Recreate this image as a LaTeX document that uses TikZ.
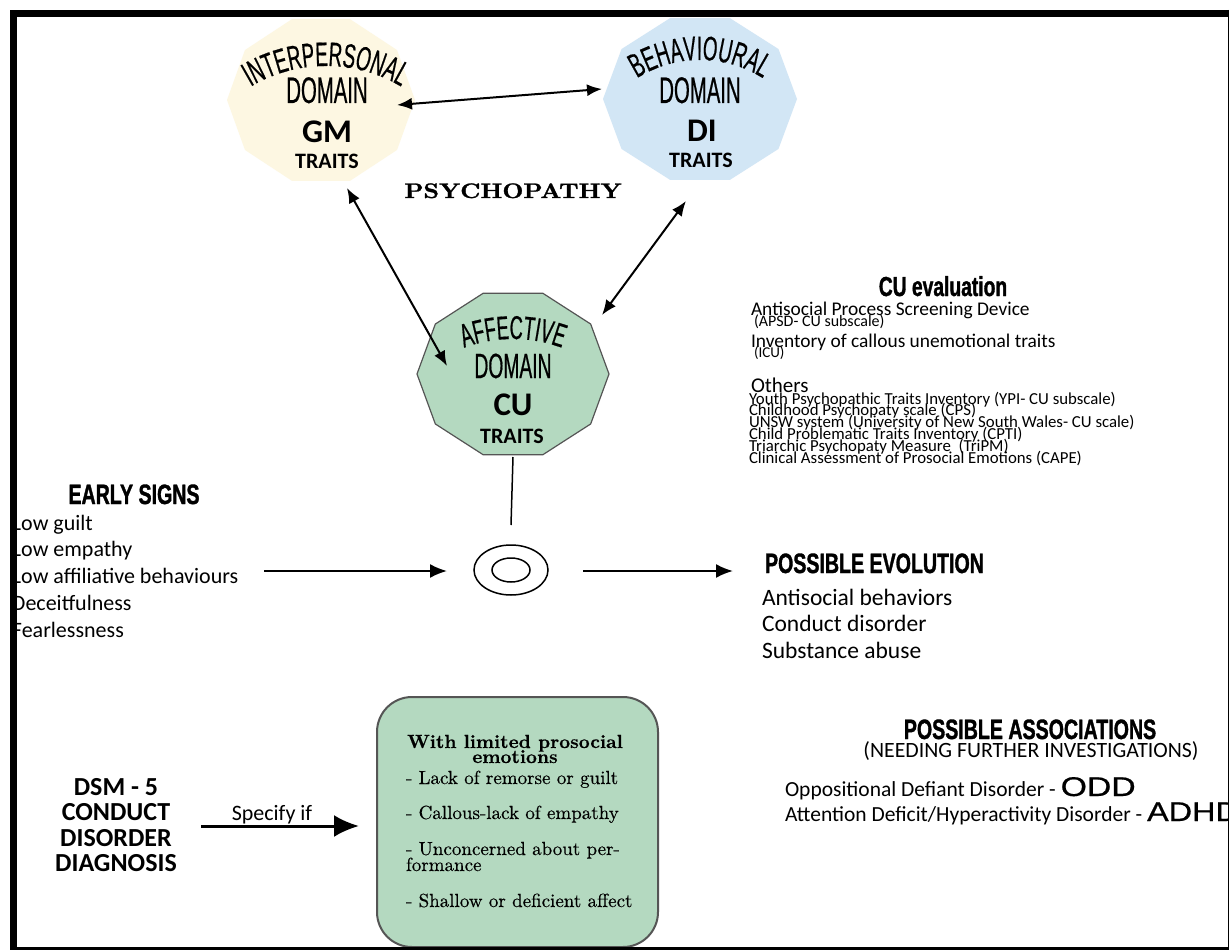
\documentclass[tikz,border=0pt]{standalone}
\usepackage{fontspec}
\usepackage{graphicx}
\usetikzlibrary{arrows.meta,decorations.text,shapes.geometric}
\newfontfamily\calfont{Carlito}
\newfontfamily\condreg{Liberation Sans}[FakeStretch=0.55,FakeBold=0.5]
\newfontfamily\condbf{Liberation Sans Bold}[FakeStretch=0.7,FakeBold=1.2]
\newfontfamily\lsans{Liberation Sans}[FakeBold=0.6]
\newfontfamily\heavyserif{lmroman10-bold.otf}[FakeBold=1.2]
\newfontfamily\darkserif{lmroman10-regular.otf}[FakeBold=0.4]
\newfontfamily\titleserif{lmroman10-bold.otf}[FakeBold=0.4]
\newcommand\setfs[1]{\fontsize{#1}{#1}\selectfont}
\newcommand\cb{\condbf}
\newcommand\archA{\condreg\setfs{34}}
\newcommand\archC{\condreg\setfs{33}}
\definecolor{gmcol}{RGB}{253,247,226}
\definecolor{dicol}{RGB}{210,230,245}
\definecolor{cucol}{RGB}{180,217,192}
\definecolor{edgegray}{RGB}{85,85,85}
\begin{document}
\begin{tikzpicture}[x=1pt,y=-1pt,
  every node/.style={inner sep=0pt,outer sep=0pt},
  lab/.style={anchor=base},
  lw/.style={anchor=base west},
  dbl/.style={{Latex[length=15pt,width=12pt]}-{Latex[length=15pt,width=12pt]},line width=2pt},
  sgl/.style={-{Latex[length=17pt,width=14pt]},line width=2pt},
  big/.style={-{Latex[length=25pt,width=22pt]},line width=3pt}]
\useasboundingbox (0,0) rectangle (1229,952);
\fill[white] (0,0) rectangle (1229,952);

% ---------- domain polygons ----------
\fill[gmcol] (321,100) +(0:94 and 85) \foreach \a in {36,72,...,324}{ -- +(\a:94 and 85)} -- cycle;
\fill[dicol] (700,99) +(0:97 and 85) \foreach \a in {36,72,...,324}{ -- +(\a:97 and 85)} -- cycle;
\filldraw[fill=cucol,draw=edgegray,line width=1.2pt] (513,374) +(0:96 and 85) \foreach \a in {36,72,...,324}{ -- +(\a:96 and 85)} -- cycle;

% interpersonal
\path[decorate,decoration={text along path,text={|\archA|INTERPERSONAL},text align=center}]
  (326,213) ++(-135:147) arc[start angle=-135,end angle=-45,radius=147];
\node[lab,font=\condreg\setfs{37}] (gmdom) at (327,103) {DOMAIN};
\node[lab,font=\calfont\bfseries\setfs{33}] (gm) at (327,143) {GM};
\node[lab,font=\calfont\bfseries\setfs{22}] (gmtr) at (327,169) {TRAITS};

% behavioural
\path[decorate,decoration={text along path,text={|\archA|BEHAVIOURAL},text align=center}]
  (700,178) ++(-140:118) arc[start angle=-140,end angle=-40,radius=118];
\node[lab,font=\condreg\setfs{37}] (didom) at (700,103) {DOMAIN};
\node[lab,font=\calfont\bfseries\setfs{33}] (di) at (702,142) {DI};
\node[lab,font=\calfont\bfseries\setfs{22}] (ditr) at (701,168) {TRAITS};

% affective
\path[decorate,decoration={text along path,text={|\archC|AFFECTIVE},text align=center}]
  (513,479) ++(-125:140) arc[start angle=-125,end angle=-55,radius=140];
\node[lab,font=\condreg\setfs{35}] (cudom) at (513,378) {DOMAIN};
\node[lab,font=\calfont\bfseries\setfs{33}] (cu) at (513,415) {CU};
\node[lab,font=\calfont\bfseries\setfs{22}] (cutr) at (512,443) {TRAITS};

\node[lab,font=\heavyserif\setfs{21}] (psy) at (513,198) {\scalebox{1.16}[1]{PSYCHOPATHY}};

% ---------- triangle arrows ----------
\coordinate (gmR) at (397,105);
\coordinate (diL) at (602,89);
\coordinate (gmB) at (347,188);
\coordinate (cuL) at (447,366);
\coordinate (diB) at (686,201);
\coordinate (cuR) at (602,315);
\draw[dbl] (gmR) -- (diL);
\draw[dbl] (gmB) -- (cuL);
\draw[dbl] (diB) -- (cuR);

% ---------- centre target ----------
\coordinate (cuBot) at (513,457);
\coordinate (lnEnd) at (511,525);
\draw[line width=1.5pt] (cuBot) -- (lnEnd);
\node[draw,ellipse,line width=1.5pt,minimum width=74pt,minimum height=50pt] (outer) at (511,570) {};
\node[draw,ellipse,line width=1.5pt,minimum width=38pt,minimum height=24pt] (inner) at (511,570) {};

\coordinate (esA) at (264,571);
\coordinate (evA) at (733,571);
\draw[sgl,shorten >=27pt] (esA) -- (outer.west |- esA);
\draw[sgl,shorten <=35pt] (outer.east |- evA) -- (evA);

% ---------- early signs ----------
\node[lab,font=\cb\setfs{28}] (es) at (134,504) {EARLY SIGNS};
\foreach \t [count=\i from 0] in {Low guilt,Low empathy,Low affiliative behaviours,Deceitfulness,Fearlessness}
  \node[lw,font=\calfont\setfs{22}] (es\i) at (12,{530+26.75*\i}) {\t};

% ---------- possible evolution ----------
\node[lw,font=\cb\setfs{28}] (ev) at (765,573) {POSSIBLE EVOLUTION};
\foreach \t [count=\i from 0] in {Antisocial behaviors,Conduct disorder,Substance abuse}
  \node[lw,font=\calfont\setfs{23.5}] (ev\i) at (762,{605+26.5*\i}) {\t};

% ---------- CU evaluation ----------
\node[lab,font=\cb\setfs{27.5}] (cue) at (943,296) {CU evaluation};
\node[lw,font=\calfont\setfs{19.4}] (apsd) at (751,315) {Antisocial Process Screening Device};
\node[lw,font=\calfont\setfs{16}] (apsds) at (754,326) {(APSD- CU subscale)};
\node[lw,font=\calfont\setfs{19.4}] (icu) at (751,347) {Inventory of callous unemotional traits};
\node[lw,font=\calfont\setfs{15}] (icus) at (754,357) {(ICU)};
\node[lw,font=\calfont\setfs{21}] (oth) at (751,392) {Others};
\foreach \t [count=\i from 0] in {Youth Psychopathic Traits Inventory (YPI- CU subscale),Childhood Psychopaty scale (CPS),UNSW system (University of New South Wales- CU scale),Child Problematic Traits Inventory (CPTI),Triarchic Psychopaty Measure\ \ (TriPM),Clinical Assessment of Prosocial Emotions (CAPE)}
  \node[lw,font=\calfont\setfs{16.8}] (ot\i) at (749,{404+11.8*\i}) {\t};

% ---------- DSM ----------
\foreach \t [count=\i from 0] in {DSM - 5,CONDUCT,DISORDER,DIAGNOSIS}
  \node[lab,font=\calfont\bfseries\setfs{26}] (dsm\i) at (116,{795+25.5*\i}) {\t};
\node[lab,font=\calfont\setfs{22}] (spec) at (272,820) {Specify if};
\node[draw=edgegray,line width=2pt,fill=cucol,rounded corners=35pt,minimum width=281pt,minimum height=250pt] (box) at (517.5,822) {};
\coordinate (spA) at (201,826);
\draw[big,shorten >=18pt] (spA) -- (spA -| box.west);
\node[lab,font=\titleserif\setfs{19}] (bt1) at (515,748) {With limited prosocial};
\node[lab,font=\titleserif\setfs{19}] (bt2) at (515,763) {emotions};
\node[lw,font=\darkserif\setfs{19}] (b1) at (406,784) {- Lack of remorse or guilt};
\node[lw,font=\darkserif\setfs{19}] (b2) at (406,819) {- Callous-lack of empathy};
\node[lw,font=\darkserif\setfs{19}] (b3) at (406,855) {- Unconcerned about per-};
\node[lw,font=\darkserif\setfs{19}] (b4) at (406,871) {formance};
\node[lw,font=\darkserif\setfs{19}] (b5) at (406,907) {- Shallow or deficient affect};

% ---------- possible associations ----------
\node[lab,font=\cb\setfs{28}] (pa) at (1030,739) {POSSIBLE ASSOCIATIONS};
\node[lab,font=\calfont\setfs{21.8}] (pas) at (1031,757) {(NEEDING FURTHER INVESTIGATIONS)};
\node[lw,font=\calfont\setfs{21.5}] (odd) at (785,796) {Oppositional Defiant Disorder - {\lsans\setfs{27}\scalebox{1.25}[1]{ODD}}};
\node[lw,font=\calfont\setfs{21.5}] (adhd) at (785,821) {Attention Deficit/Hyperactivity Disorder - {\lsans\setfs{27}\scalebox{1.2}[1]{ADHD}}};

% ---------- frame ----------
\fill (10,10) rectangle (1229,17);
\fill (10,10) rectangle (17,950);
\draw[line width=3pt] (10,948.5) -- (1229,948.5);
\draw[line width=1.5pt] (1228.25,10) -- (1228.25,950);
\end{tikzpicture}
\end{document}
